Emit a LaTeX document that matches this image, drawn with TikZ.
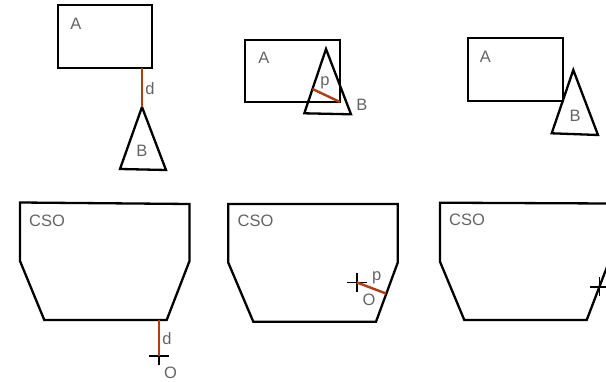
\documentclass[tikz,border=0pt]{standalone}
\usepackage{fontspec}
\setmainfont{Liberation Sans}
\usetikzlibrary{positioning}

\definecolor{gapred}{RGB}{176,62,18}
\definecolor{lblgray}{RGB}{100,100,100}

\begin{document}
\begin{tikzpicture}[
  x=1pt, y=-1pt,
  outline/.style={draw=black, line width=2.3pt, line join=miter},
  gap/.style={draw=gapred, line width=2.4pt},
  crossmark/.style={draw=black, line width=1.2pt},
  lbl/.style={font=\fontsize{16.5}{18}\selectfont, text=lblgray, inner sep=0pt},
]
\useasboundingbox (0,0) rectangle (606,382);
\clip (0,0) rectangle (606,382);

% --- top left: separated ---
\draw[outline] (58,5) rectangle (152,68);
\draw[outline] (142,107) -- (120,169) -- (166,170) -- cycle;
\coordinate (ra1) at (142,68);
\coordinate (tb1) at (142,107);
\draw[gap] (ra1) -- (tb1);
\node[lbl] (a1) at (76,24) {A};
\node[lbl] (b1) at (142,150.5) {B};
\node[lbl] (d1) at (150,89) {d};

% --- top middle: overlapping ---
\draw[outline] (245,40) rectangle (340,102);
\draw[outline] (326,49) -- (304.3,113.3) -- (351,114.3) -- cycle;
\coordinate (tb2) at (312.5,89);
\coordinate (ra2) at (340,102);
\draw[gap] (tb2) -- (ra2);
\node[lbl] (a2) at (264,58) {A};
\node[lbl] (b2) at (362,105) {B};
\node[lbl] (p2) at (325,83) {p};

% --- top right: touching ---
\draw[outline] (468,38) rectangle (563,101);
\draw[outline] (573.3,70) -- (551.7,133.3) -- (598,135) -- cycle;
\node[lbl] (a3) at (485.3,56.5) {A};
\node[lbl] (b3) at (575,116) {B};

% --- bottom left: origin outside ---
\draw[outline] (20,202.5) -- (189.5,204) -- (189.5,261) -- (166.7,320)
  -- (44.3,320) -- (20,261) -- cycle;
\coordinate (o4) at (159,356);
\coordinate (e4) at (159,320);
\draw[crossmark] (o4) ++(-10,0) -- ++(20,0) (o4) ++(0,-10) -- ++(0,19);
\draw[gap] (e4) -- (o4);
\node[lbl] (c4) at (47,220.5) {CSO};
\node[lbl] (d4) at (167,339) {d};
\node[lbl] (n4) at (170.5,373.3) {O};

% --- bottom middle: origin inside ---
\draw[outline] (228.3,204) -- (397.7,204) -- (397.7,262.7) -- (376,321.7)
  -- (253.3,321.7) -- (228.3,262.7) -- cycle;
\coordinate (o5) at (357,282.5);
\coordinate (e5) at (386,293.5);
\draw[crossmark] (o5) ++(-10,0) -- ++(20,0) (o5) ++(0,-9.5) -- ++(0,19);
\draw[gap] (o5) -- (e5);
\node[lbl] (c5) at (255.5,220.5) {CSO};
\node[lbl] (p5) at (376.7,277.6) {p};
\node[lbl] (n5) at (369,299.8) {O};

% --- bottom right: origin on boundary ---
\draw[outline] (440,202.7) -- (609,203.5) -- (609,261.7) -- (586.7,320)
  -- (464.3,320) -- (440,261.7) -- cycle;
\coordinate (o6) at (599.5,287);
\draw[crossmark] (o6) ++(-10,0) -- ++(20,0) (o6) ++(0,-9.5) -- ++(0,19);
\node[lbl] (c6) at (467,220) {CSO};
\node[lbl] (n6) at (612,304) {O};

\end{tikzpicture}
\end{document}
